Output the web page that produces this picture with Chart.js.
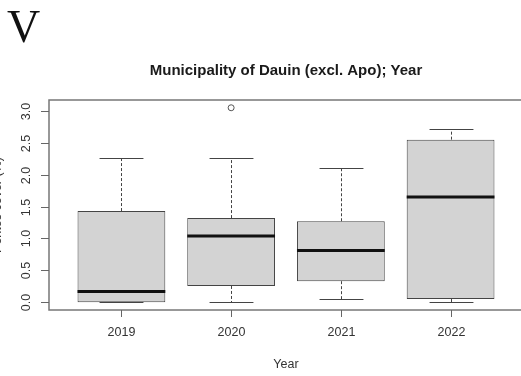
<!DOCTYPE html>
<html><head><meta charset="utf-8">
<script src="https://cdn.jsdelivr.net/npm/chart.js@4"></script>
<style>
html,body{margin:0;padding:0;background:#fff;overflow:hidden;width:521px;height:376px;}
#wrap{position:absolute;left:0;top:0;width:580px;height:376px;}
#panel{position:absolute;left:7px;top:4px;font-family:"Liberation Serif","Times New Roman",serif;font-size:46px;color:#111;line-height:1;}
</style></head><body>
<div id="wrap"><canvas id="c" width="580" height="376"></canvas></div>
<div id="panel">V</div>
<script>
const categories = ['2019', '2020', '2021', '2022'];
const whiskerLow = [0.00, 0.00, 0.05, 0.00];
const q1 = [0.00, 0.255, 0.33, 0.05];
const medians = [0.17, 1.04, 0.81, 1.65];
const q3 = [1.43, 1.32, 1.27, 2.55];
const whiskerHigh = [2.26, 2.26, 2.11, 2.71];
const outliers = [[], [3.05], [], []];
const yTicks = [0, 0.5, 1, 1.5, 2, 2.5, 3];
const chartTitle = 'Municipality of Dauin (excl. Apo); Year';
const xTitle = 'Year';
const yTitle = 'Porites cover (%)';

const boxData = categories.map((c, i) => ({x: i + 1, y: [q1[i], q3[i]]}));
const outlierData = [];
outliers.forEach((arr, i) => arr.forEach(v => outlierData.push({x: i + 1, y: v})));

const FONT = '"Liberation Sans", Arial, Helvetica, sans-serif';

const boxPlugin = {
  id: 'boxDecor',
  afterDatasetsDraw(chart) {
    const ctx = chart.ctx;
    const ys = chart.scales.y;
    const meta = chart.getDatasetMeta(0);
    ctx.save();
    meta.data.forEach((el, i) => {
      const x = Math.round(el.x) + 0.5, w = el.width;
      ctx.strokeStyle = '#444';
      ctx.lineWidth = 1;
      ctx.setLineDash([3, 2]);
      ctx.beginPath();
      ctx.moveTo(x, ys.getPixelForValue(q3[i]));
      ctx.lineTo(x, ys.getPixelForValue(whiskerHigh[i]));
      ctx.moveTo(x, ys.getPixelForValue(q1[i]));
      ctx.lineTo(x, ys.getPixelForValue(whiskerLow[i]));
      ctx.stroke();
      ctx.setLineDash([]);
      ctx.beginPath();
      const yh = Math.round(ys.getPixelForValue(whiskerHigh[i])) + 0.5;
      const yl = Math.round(ys.getPixelForValue(whiskerLow[i])) + 0.5;
      ctx.moveTo(x - w / 4, yh); ctx.lineTo(x + w / 4, yh);
      ctx.moveTo(x - w / 4, yl); ctx.lineTo(x + w / 4, yl);
      ctx.stroke();
      ctx.strokeStyle = '#111';
      ctx.lineWidth = 3;
      ctx.beginPath();
      const ym = ys.getPixelForValue(medians[i]);
      ctx.moveTo(el.x - w / 2, ym); ctx.lineTo(el.x + w / 2, ym);
      ctx.stroke();
    });
    ctx.restore();
  },
  afterDraw(chart) {
    const ctx = chart.ctx;
    const a = chart.chartArea;
    const xs = chart.scales.x, ys = chart.scales.y;
    ctx.save();
    ctx.strokeStyle = '#777';
    ctx.lineWidth = 1.5;
    ctx.strokeRect(a.left, a.top, a.right - a.left, a.bottom - a.top);
    ctx.lineWidth = 1;
    ctx.strokeStyle = '#666';
    ctx.fillStyle = '#333';
    ctx.font = '12.5px ' + FONT;
    categories.forEach((c, i) => {
      const x = Math.round(xs.getPixelForValue(i + 1)) + 0.5;
      ctx.beginPath(); ctx.moveTo(x, a.bottom); ctx.lineTo(x, a.bottom + 7); ctx.stroke();
      ctx.textAlign = 'center'; ctx.textBaseline = 'middle';
      ctx.fillText(c, x, 333);
    });
    yTicks.forEach(v => {
      const y = Math.round(ys.getPixelForValue(v)) + 0.5;
      ctx.beginPath(); ctx.moveTo(a.left - 8, y); ctx.lineTo(a.left, y); ctx.stroke();
      ctx.save();
      ctx.translate(27, y);
      ctx.rotate(-Math.PI / 2);
      ctx.textAlign = 'center'; ctx.textBaseline = 'middle';
      ctx.fillText(v.toFixed(1), 0, 0);
      ctx.restore();
    });
    const cx = (a.left + a.right) / 2;
    ctx.textAlign = 'center'; ctx.textBaseline = 'middle';
    ctx.fillText(xTitle, cx, 365);
    ctx.save();
    ctx.translate(-2, (a.top + a.bottom) / 2);
    ctx.rotate(-Math.PI / 2);
    ctx.fillText(yTitle, 0, 0);
    ctx.restore();
    ctx.fillStyle = '#1a1a1a';
    ctx.font = 'bold 15px ' + FONT;
    ctx.fillText(chartTitle, cx, 71);
    ctx.restore();
  }
};

new Chart(document.getElementById('c'), {
  type: 'bar',
  data: {
    datasets: [
      {
        type: 'bar',
        data: boxData,
        backgroundColor: '#d3d3d3',
        borderColor: '#444',
        borderWidth: 1,
        borderSkipped: false,
        categoryPercentage: 1,
        barPercentage: 0.8
      },
      {
        type: 'scatter',
        data: outlierData,
        pointStyle: 'circle',
        pointRadius: 3,
        pointBackgroundColor: '#fff',
        pointBorderColor: '#555',
        pointBorderWidth: 1
      }
    ]
  },
  options: {
    responsive: false,
    animation: false,
    devicePixelRatio: 1,
    layout: {padding: {left: 49, top: 100, right: 57, bottom: 66}},
    plugins: {legend: {display: false}, tooltip: {enabled: false}, title: {display: false}},
    scales: {
      x: {
        type: 'linear', min: 0.34, max: 4.66, display: false, offset: false,
        afterBuildTicks: s => { s.ticks = categories.map((c, i) => ({value: i + 1})); }
      },
      y: {type: 'linear', min: -0.122, max: 3.172, display: false}
    }
  },
  plugins: [boxPlugin]
});
</script>
</body></html>
